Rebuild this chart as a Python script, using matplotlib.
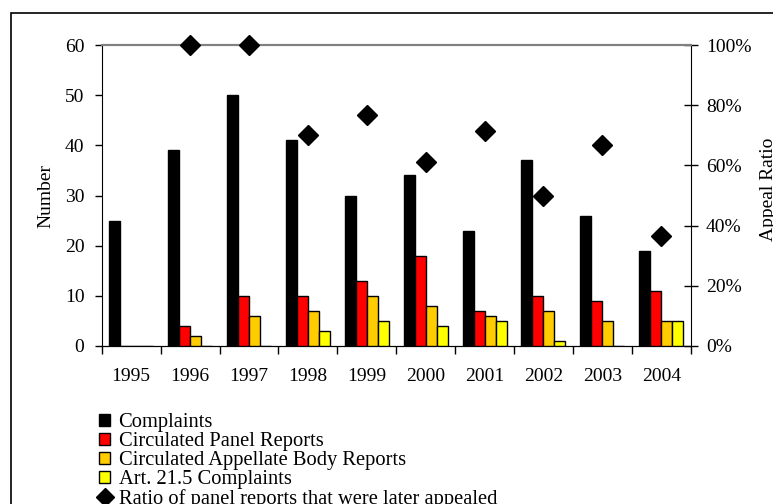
import matplotlib
matplotlib.use("Agg")
import matplotlib.pyplot as plt
import numpy as np
from matplotlib.patches import Rectangle
from matplotlib.lines import Line2D

years = ["1995", "1996", "1997", "1998", "1999", "2000", "2001", "2002", "2003", "2004"]
complaints = [25, 39, 50, 41, 30, 34, 23, 37, 26, 19]
panel_reports = [0, 4, 10, 10, 13, 18, 7, 10, 9, 11]
ab_reports = [0, 2, 6, 7, 10, 8, 6, 7, 5, 5]
art215 = [0, 0, 0, 3, 5, 4, 5, 1, 0, 5]
appeal_ratio = [np.nan, 1.0, 1.0, 0.70, 0.769, 0.611, 0.714, 0.50, 0.667, 0.364]

plt.rcParams['font.family'] = ['Liberation Serif', 'DejaVu Serif']
plt.rcParams['font.size'] = 14

fig = plt.figure(figsize=(7.73, 5.04), dpi=100)
ax = fig.add_axes([0.1316, 0.3135, 0.8935 - 0.1316, 0.9107 - 0.3135])
ax2 = ax.twinx()
ax.set_zorder(ax2.get_zorder() + 1)
ax.patch.set_visible(False)

x = np.arange(len(years))
w = 0.187
series = [(complaints, "#000000", "Complaints"),
          (panel_reports, "#FF0000", "Circulated Panel Reports"),
          (ab_reports, "#FFCC00", "Circulated Appellate Body Reports"),
          (art215, "#FFFF00", "Art. 21.5 Complaints")]
handles = []
for i, (vals, col, lab) in enumerate(series):
    ax.bar(x + (i - 1.5) * w, vals, width=w, color=col, edgecolor="black",
           linewidth=1.0, label=lab, zorder=3)
    handles.append(Rectangle((0, 0), 1, 1, facecolor=col, edgecolor="black", linewidth=1.0))

ax.plot(x, np.array(appeal_ratio) * 60, linestyle="none", marker="D", markersize=10,
        color="black", clip_on=False, zorder=5)
handles.append(Line2D([], [], linestyle="none", marker="D", markersize=9, color="black"))

ax.set_xlim(-0.5, 9.5)
ax.set_ylim(0, 60)
ax.set_yticks(range(0, 61, 10))
ax2.set_ylim(0, 1)
ax2.set_yticks(np.arange(0, 1.01, 0.2))
ax2.set_yticklabels([f"{int(round(v*100))}%" for v in np.arange(0, 1.01, 0.2)])

ax.set_xticks(np.arange(-0.5, 9.6, 1))
ax.set_xticklabels([])
ax.set_xticks(x, minor=True)
ax.set_xticklabels(years, minor=True)
ax.tick_params(axis="x", which="major", direction="out", length=6, width=1, color="black")
ax.tick_params(axis="x", which="minor", length=0, pad=16)
ax.tick_params(axis="y", direction="out", length=5, width=1, pad=7.5)
ax2.tick_params(axis="y", direction="inout", length=10, width=1, pad=6)

for a in (ax, ax2):
    a.spines["top"].set_color("#808080")
    a.spines["top"].set_linewidth(1.5)
    a.spines["left"].set_color("black")
    a.spines["right"].set_color("black")
    a.spines["bottom"].set_color("black")
ax.spines["right"].set_visible(False)
ax2.spines["left"].set_visible(False)

ax.set_ylabel("Number", fontsize=14)
ax.yaxis.set_label_coords(-0.081, 0.5)
ax2.set_ylabel("Appeal Ratio", fontsize=14)
ax2.yaxis.set_label_coords(1.117, 0.52)

fig.legend(handles, [s[2] for s in series] + ["Ratio of panel reports that were later appealed"],
           loc="upper left", bbox_to_anchor=(99 / 773, 1 - 413 / 504), frameon=False,
           handlelength=0.55, handleheight=0.55, handletextpad=0.4, labelspacing=0.0,
           borderpad=0, borderaxespad=0, fontsize=14.8)

fig.add_artist(Rectangle((11 / 773, -0.1), 2, 1 - 13 / 504 + 0.1, transform=fig.transFigure,
                         facecolor="none", edgecolor="black", linewidth=1.2))

fig.savefig("out.png", dpi=100)
